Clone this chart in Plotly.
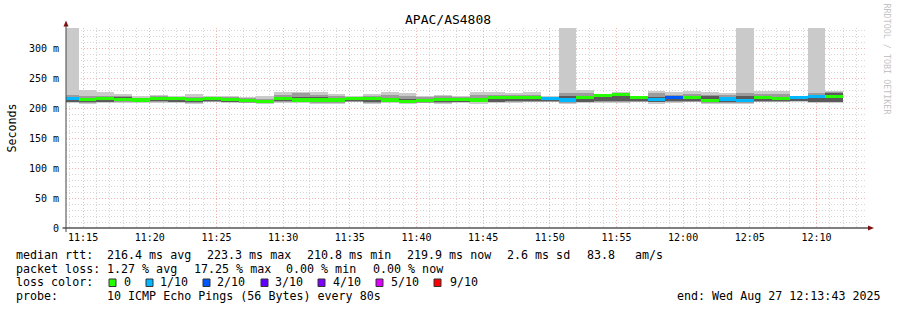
import plotly.graph_objects as go
import pandas as pd

# ---------------- data ----------------
title_text = "APAC/AS4808"
range_start = "2025-08-27 11:13:43"
range_end = "2025-08-27 12:13:43"
first_bin_start = "2025-08-27 11:13:20"
bin_seconds = 80

# per 80 s bin (ms)
smoke_max = [340, 230, 227, 224, 221, 223, 220, 224, 221, 221, 219, 220, 227, 228, 227, 224, 220, 224, 228, 226, 220, 222,
             221, 228, 227, 226, 228, 220, 340, 230, 224, 228, 220, 229.6, 227, 229.6, 227, 226, 340, 229.6, 229.6, 221, 340, 229.6]
smoke_hi1 = [222, 221, 220, 221, 218, 220, 218, 219, 219, 219, 217, 216, 223, 225, 223, 220, 219, 221, 222, 220, 219, 220,
             219, 222, 223, 222, 223, 219, 226, 225, 222, 226, 219, 225, 223, 224, 222, 222, 226, 224, 224, 219, 226, 228]
smoke_hi2 = [218, 216, 216, 219, 215, 218, 217, 216, 217, 216, 214, 214, 219, 219, 219, 217, 217, 218, 217, 216, 216, 217,
             216, 218, 220, 219, 220, 218, 220, 220, 221, 224.5, 217, 219, 219, 220, 220, 218, 221, 220, 219, 218, 222, 226]
median = [216.5, 214.5, 216.5, 215.5, 214, 216.5, 216, 215, 216.5, 214.5, 213, 211.5, 216, 214, 214, 214, 216.5, 216, 214, 211, 213, 215.5,
          215, 214, 218, 217.5, 218, 216.5, 214, 218, 221, 223.5, 218, 214.5, 217.5, 218, 213.5, 215.6, 213.5, 217.5, 216.5, 218, 220.5, 219.9]
smoke_lo2 = [211, 210, 211, 212, 211, 212, 211, 210, 212, 211, 210, 210, 212, 211, 210, 211, 212, 210, 211, 210, 210, 210,
             211, 211, 211, 212, 213, 212, 210, 211, 212, 212, 212, 211, 212, 213, 210, 211, 210, 212, 212, 213, 211, 211]
smoke_lo1 = [210, 209, 210, 210, 210, 210, 210, 209, 211, 210, 209.5, 209, 210, 210, 209, 209, 211, 209, 210, 209, 209.5, 209,
             210, 210, 210, 210, 211, 211, 209, 210, 210, 210, 211, 210, 210, 211, 209, 209, 209, 211, 211, 212, 210, 210]
smoke_min = [209, 208, 209, 209, 209, 209, 209, 208, 210, 209, 209, 208, 209, 209, 208, 208, 210, 208, 209, 208, 209, 208,
             209, 208, 209, 209, 210, 210, 208, 209, 209, 209, 210, 208, 209, 210, 208, 208, 208, 210, 210, 211, 209, 209.5]
loss = [1, 0, 0, 0, 0, 0, 0, 0, 0, 0, 0, 0, 0, 0, 0, 0, 0, 0, 0, 0, 0, 0,
        0, 0, 0, 0, 0, 1, 1, 0, 0, 0, 0, 1, 2, 0, 0, 1, 1, 0, 0, 1, 1, 0]

loss_levels = ["0", "1/10", "2/10", "3/10", "4/10", "5/10", "9/10"]
loss_level_counts = [0, 1, 2, 3, 4, 5, 9]
loss_colors = ["#26ff00", "#00b8ff", "#0059ff", "#5e00ff", "#7e00ff", "#dd00ff", "#ff0000"]

y_tick_values = [0, 50, 100, 150, 200, 250, 300]
y_tick_labels = ["0", "50 m", "100 m", "150 m", "200 m", "250 m", "300 m"]

rtt_stats = ["216.4 ms avg", "223.3 ms max", "210.8 ms min", "219.9 ms now", "2.6 ms sd", "83.8", "am/s"]
loss_stats = ["1.27 % avg", "17.25 % max", "0.00 % min", "0.00 % now"]
probe_text = "10 ICMP Echo Pings (56 Bytes) every 80s"
end_text = "end: Wed Aug 27 12:13:43 2025"

# ---------------- layout geometry ----------------
W, H = 897, 310
L, R, T, B = 66, 31, 28, 82
PW, PH = W - L - R, H - T - B
Y_TOP = 334.3
FONT = "DejaVu Sans Mono"


def px(x):
    return (x - L) / PW


def py(y):
    return (H - B - y) / PH


centers = pd.date_range(first_bin_start, periods=len(median), freq=f"{bin_seconds}s") + pd.Timedelta(seconds=bin_seconds / 2)
bw = bin_seconds * 1000

fig = go.Figure()


def layer(lo, hi, color):
    fig.add_trace(go.Bar(
        x=centers, base=lo, y=[h - l for h, l in zip(hi, lo)], width=bw,
        marker=dict(color=color, line=dict(width=0)), hoverinfo="skip", showlegend=False))


layer(smoke_min, smoke_max, "#cacaca")
layer(smoke_lo1, smoke_hi1, "#9c9c9c")
layer(smoke_lo2, smoke_hi2, "#5a5a5a")

half = 2.6
med_colors = [loss_colors[loss_level_counts.index(l)] for l in loss]
fig.add_trace(go.Bar(
    x=centers, base=[m - half for m in median], y=[2 * half] * len(median), width=bw,
    marker=dict(color=med_colors, line=dict(width=0)), hoverinfo="skip", showlegend=False))

MAJ = "#f3b3b3"
MIN = "#d6d6d6"
fig.update_layout(
    width=W, height=H, margin=dict(l=L, r=R, t=T, b=B),
    paper_bgcolor="white", plot_bgcolor="white", barmode="overlay", bargap=0,
    font=dict(family=FONT, size=10, color="black"),
    showlegend=False,
)

fig.update_xaxes(
    type="date", range=[range_start, range_end],
    tick0="2025-08-27 11:15:00", dtick=300000, tickformat="%H:%M",
    showgrid=True, gridcolor=MAJ, griddash="1px,2px", gridwidth=1,
    minor=dict(dtick=60000, tick0="2025-08-27 11:15:00", showgrid=True, gridcolor=MIN, griddash="1px,2px", gridwidth=1),
    showline=False, zeroline=False, ticks="", tickfont=dict(family=FONT, size=10), ticklabelstandoff=2,
)
fig.update_yaxes(
    range=[0, Y_TOP], tickvals=y_tick_values, ticktext=y_tick_labels,
    showgrid=True, gridcolor=MAJ, griddash="1px,2px", gridwidth=1,
    minor=dict(dtick=10, showgrid=True, gridcolor=MIN, griddash="1px,2px", gridwidth=1),
    showline=False, zeroline=False, ticks="", tickfont=dict(family=FONT, size=10), ticklabelstandoff=6,
)

shapes = []
# axes lines
shapes.append(dict(type="line", xref="paper", yref="paper", x0=px(62.5), x1=px(869), y0=py(228), y1=py(228),
                   line=dict(color="black", width=1)))
shapes.append(dict(type="line", xref="paper", yref="paper", x0=px(66), x1=px(66), y0=py(232), y1=py(24),
                   line=dict(color="#444444", width=1)))
# arrows
shapes.append(dict(type="path", xref="paper", yref="paper",
                   path=f"M {px(63.5)} {py(26.5)} L {px(68.5)} {py(26.5)} L {px(66)} {py(20.5)} Z",
                   fillcolor="#7f1010", line=dict(width=0)))
shapes.append(dict(type="path", xref="paper", yref="paper",
                   path=f"M {px(868)} {py(225.5)} L {px(868)} {py(230.5)} L {px(874)} {py(228)} Z",
                   fillcolor="#7f1010", line=dict(width=0)))

ann = []


def text(x, y, s, size=11.66, anchor="left", color="black", angle=0, yanchor="middle"):
    ann.append(dict(xref="paper", yref="paper", x=px(x), y=py(y), text=s, showarrow=False,
                    xanchor=anchor, yanchor=yanchor, textangle=angle, borderpad=0, borderwidth=0,
                    font=dict(family=FONT, size=size, color=color)))


text(448, 19, title_text, size=13, anchor="center")
text(11, 127.5, "Seconds", size=11.66, anchor="center", angle=-90)
text(886, 59.5, "RRDTOOL / TOBI OETIKER", size=8.4, anchor="center", color="#c4c4c4", angle=90)

# legend lines
line_y = [255, 268.5, 282.3, 296.3]
text(15.5, line_y[0], "median rtt:")
for s, x in zip(rtt_stats, [107, 207, 307, 407, 506.5, 586.5, 635]):
    text(x, line_y[0], s)
text(15.5, line_y[1], "packet loss:")
for s, x in zip(loss_stats, [107, 194, 286, 372.5]):
    text(x, line_y[1], s)
text(15.5, line_y[2], "loss color:")
box_x = [109, 146, 203, 261, 318, 376, 434]
lab_x = [124, 160, 217, 275, 333, 391, 450]
for lvl, col, bx, lx in zip(loss_levels, loss_colors, box_x, lab_x):
    shapes.append(dict(type="rect", xref="paper", yref="paper", x0=px(bx), x1=px(bx + 7), y0=py(286.5), y1=py(279),
                       fillcolor=col, line=dict(color="#333333", width=1)))
    text(lx - 0.5, line_y[2], lvl)
text(15.5, line_y[3], "probe:")
text(107, line_y[3], probe_text)
text(880.5, line_y[3], end_text, anchor="right")

fig.update_layout(shapes=shapes, annotations=ann)
fig.write_html("out.html")
